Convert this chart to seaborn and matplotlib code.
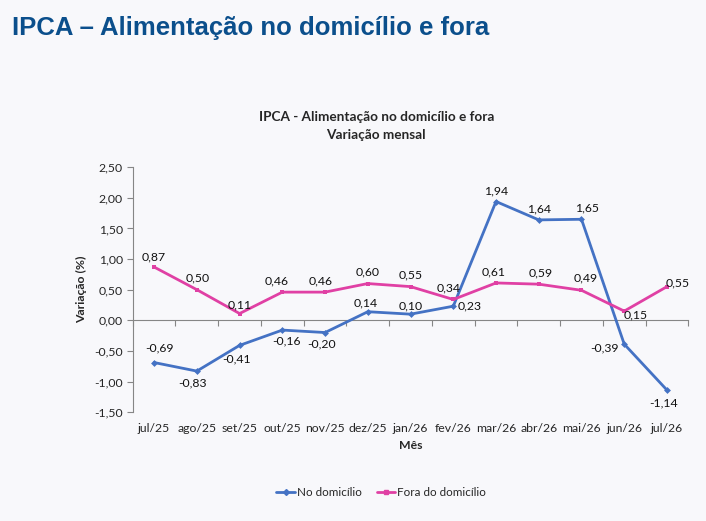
import seaborn as sns
import matplotlib.pyplot as plt
import pandas as pd

# Dados
meses = ['jul/25', 'ago/25', 'set/25', 'out/25', 'nov/25', 'dez/25', 'jan/26',
         'fev/26', 'mar/26', 'abr/26', 'mai/26', 'jun/26', 'jul/26']
no_domicilio = [-0.69, -0.83, -0.41, -0.16, -0.20, 0.14, 0.10, 0.23, 1.94, 1.64, 1.65, -0.39, -1.14]
fora_domicilio = [0.87, 0.50, 0.11, 0.46, 0.46, 0.60, 0.55, 0.34, 0.61, 0.59, 0.49, 0.15, 0.55]
y_ticks = [-1.5, -1.0, -0.5, 0.0, 0.5, 1.0, 1.5, 2.0, 2.5]

# deslocamento dos rótulos (pixels)
off_no = [(5, 15), (-4, -12), (-3, -14), (4, -11), (-4, -11), (-2, 9), (0, 8),
          (16, 0), (0, 11), (0, 11), (6, 11), (-20, -4), (-3, -13)]
off_fora = [(0, 10), (1, 12), (0, 9), (-6, 11), (-4, 11), (0, 12), (0, 12),
            (-5, 12), (-2, 11), (2, 11), (4, 12), (11, -4), (11, 4)]

df = pd.DataFrame({
    'x': list(range(len(meses))) * 2,
    'valor': no_domicilio + fora_domicilio,
    'serie': ['No domicílio'] * len(meses) + ['Fora do domicílio'] * len(meses),
})

sns.set_style('white')
plt.rcParams['font.family'] = ['Lato', 'DejaVu Sans']
bg = '#f8f8fb'
cores = {'No domicílio': '#4472c4', 'Fora do domicílio': '#e040a4'}
fs = 8.8

fig = plt.figure(figsize=(7.06, 5.21), dpi=100, facecolor=bg)
ax = fig.add_axes([0.188, 0.209, 0.787, 0.470])
ax.set_facecolor(bg)

sns.lineplot(data=df, x='x', y='valor', hue='serie', style='serie',
             markers={'No domicílio': 'D', 'Fora do domicílio': 's'}, dashes=False,
             palette=cores, linewidth=2, markersize=3.5, markeredgewidth=0, ax=ax,
             legend=False)

for vals, offs, in [(no_domicilio, off_no), (fora_domicilio, off_fora)]:
    for i, (v, o) in enumerate(zip(vals, offs)):
        ax.annotate(f'{v:.2f}'.replace('.', ','), (i, v), xytext=o,
                    textcoords='offset pixels', ha='center', va='center',
                    fontsize=fs, color='#111111')

ax.set_xlim(-0.5, len(meses) - 0.5)
ax.set_ylim(-1.5, 2.5)
ax.set_yticks(y_ticks)
ax.set_yticklabels([f'{t:.2f}'.replace('.', ',') for t in y_ticks], fontsize=fs)
ax.set_xticks(range(len(meses)))
ax.set_xticklabels(meses, fontsize=fs)
ax.tick_params(axis='x', length=0, pad=8)
ax.tick_params(axis='y', length=4, direction='out', color='#868686', pad=3, left=True)

for s in ['top', 'right', 'bottom']:
    ax.spines[s].set_visible(False)
ax.spines['left'].set_color('#868686')
ax.spines['left'].set_linewidth(0.8)

# eixo em zero
sec = ax.secondary_xaxis(1.5 / 4.0)
sec.set_xticks([i - 0.5 for i in range(len(meses) + 1)])
sec.set_xticklabels([])
sec.tick_params(length=4, direction='out', color='#868686')
sec.spines['bottom'].set_color('#868686')
sec.spines['bottom'].set_linewidth(0.8)

ax.set_xlabel('Mês', fontsize=fs, fontweight='bold', labelpad=4)
ax.set_ylabel('Variação (%)', fontsize=fs, fontweight='bold', labelpad=5)

fig.text(0.533, 0.758, 'IPCA - Alimentação no domicílio e fora\nVariação mensal',
         ha='center', va='center', fontsize=9.8, fontweight='bold', linespacing=1.6)

fig.text(0.017, 0.933, 'IPCA – Alimentação no domicílio e fora', fontsize=18.5,
         fontweight='bold', color='#0b4f8c', family=['Liberation Sans', 'DejaVu Sans'])

handles = [plt.Line2D([], [], color=cores['No domicílio'], marker='D', markersize=3, lw=2),
           plt.Line2D([], [], color=cores['Fora do domicílio'], marker='s', markersize=3.5, lw=2)]
fig.legend(handles, ['No domicílio', 'Fora do domicílio'], loc='center',
           bbox_to_anchor=(0.54, 0.054), ncol=2, frameon=False, fontsize=8.4,
           handlelength=1.6, handletextpad=0.15, columnspacing=1.3)

plt.savefig('out.png', dpi=100, facecolor=bg)
